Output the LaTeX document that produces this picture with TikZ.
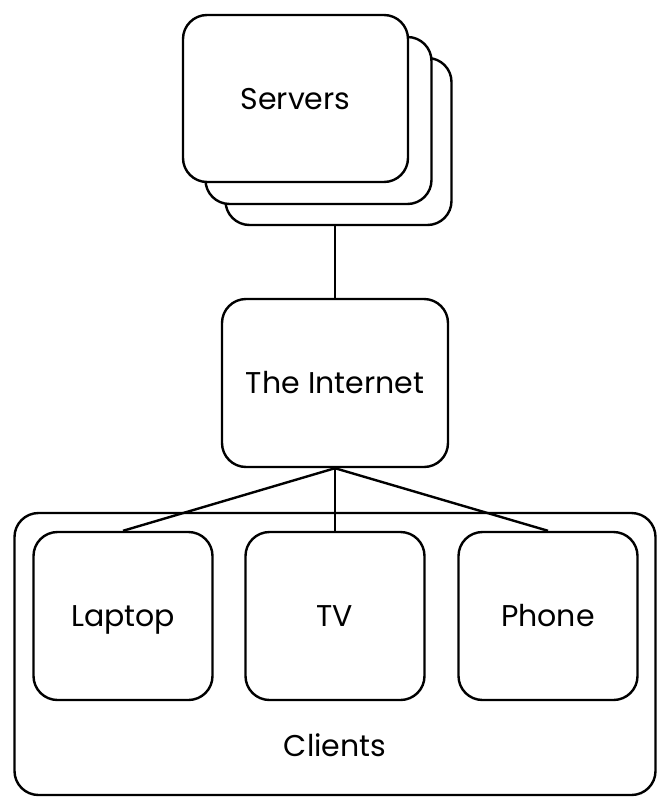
\documentclass[tikz,border=0pt]{standalone}
\usepackage{fontspec}
\setmainfont{Poppins}
\begin{document}
\begin{tikzpicture}[x=1pt,y=-1pt,
  box/.style={draw=black,line width=2.4pt,rounded corners=24pt,fill=white,inner sep=0pt,text height=21pt,text depth=0pt,font=\fontsize{30}{36}\selectfont},
  link/.style={draw=black,line width=2.4pt}]
\useasboundingbox (0,0) rectangle (665,803);
% Servers stack
\node[box,minimum width=226pt,minimum height=167pt] (srv3) at (338.5,141.5) {};
\node[box,minimum width=226pt,minimum height=167pt] (srv2) at (318.5,120.5) {};
\node[box,minimum width=225pt,minimum height=167pt] (srv) at (295.5,98.5) {Servers};
% Internet
\node[box,minimum width=226pt,minimum height=168pt] (net) at (335,383) {The Internet};
% Clients
\node[box,minimum width=641pt,minimum height=282pt] (cli) at (335,654) {};
\node[font=\fontsize{30}{36}\selectfont,text height=21pt,text depth=0pt,inner sep=0pt] (clilabel) at (335,746) {Clients};
\node[box,minimum width=179pt,minimum height=168pt] (lap) at (123,616) {Laptop};
\node[box,minimum width=179pt,minimum height=168pt] (tv) at (335,616) {TV};
\node[box,minimum width=179pt,minimum height=168pt] (ph) at (548,616) {Phone};
% connectors
\draw[link] (net.north |- srv3.south) -- (net.north);
\draw[link] (net.south) -- (lap.north);
\draw[link] (net.south) -- (tv.north);
\draw[link] (net.south) -- (ph.north);
\end{tikzpicture}
\end{document}
